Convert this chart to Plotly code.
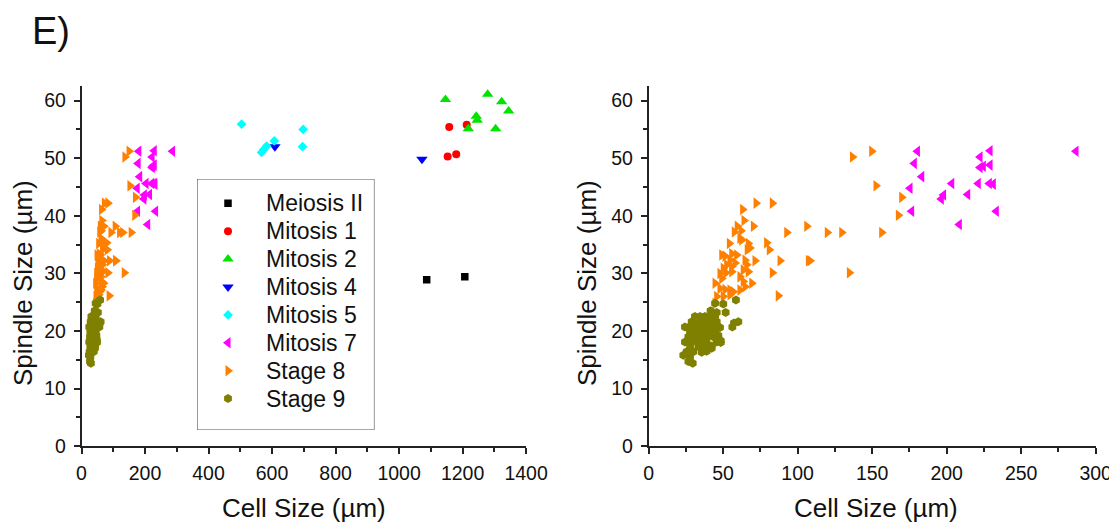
import plotly.graph_objects as go

# ---------------- data ----------------
meiosis2_x = [1087, 1207]
meiosis2_y = [28.9, 29.4]

mitosis1_x = [1158, 1213, 1153, 1180]
mitosis1_y = [55.4, 55.8, 50.3, 50.7]

mitosis2_x = [1146, 1279, 1323, 1345, 1243, 1246, 1218, 1304]
mitosis2_y = [60.2, 61.1, 59.8, 58.2, 57.3, 56.6, 55.1, 55.1]

mitosis4_x = [609, 1072]
mitosis4_y = [52.0, 49.8]

mitosis5_x = [504, 698, 607, 583, 574, 567, 696]
mitosis5_y = [55.9, 55.0, 53.0, 52.1, 51.5, 51.0, 52.0]

mitosis7_x = [180.4, 178.3, 183.3, 175.4, 176.5, 203.4, 197.9, 196.4, 214.1, 222.4,
              229.1, 222.4, 224.6, 229.1, 221.2, 228.6, 231.3, 233.3, 208.5, 286.8]
mitosis7_y = [51.2, 49.1, 46.8, 44.8, 40.8, 45.6, 43.6, 42.9, 43.7, 50.2,
              51.3, 48.4, 48.6, 48.8, 45.6, 45.6, 45.5, 40.8, 38.5, 51.2]

stage8_x = [136.8, 149.7, 152.6, 169.8, 167.6, 72.1, 83.0, 63.1, 64.0, 70.3,
            106.1, 92.7, 119.9, 129.6, 156.4, 59.5, 57.5, 62.0, 61.3, 62.5,
            66.9, 68.0, 66.2, 54.2, 79.2, 81.0, 49.1, 51.3, 55.8, 59.1,
            54.6, 58.0, 52.4, 55.8, 64.7, 65.8, 71.4, 88.2, 107.2, 108.3,
            50.1, 47.9, 51.9, 55.8, 63.5, 66.9, 83.0, 134.7, 49.1, 61.3,
            63.5, 69.2, 64.7, 44.6, 47.9, 51.3, 54.6, 61.3, 87.0, 45.7,
            44.6, 54.6, 56.8, 50.1]
stage8_y = [50.2, 51.2, 45.2, 43.2, 40.1, 42.2, 42.2, 41.1, 39.2, 38.2,
            38.2, 37.1, 37.1, 37.1, 37.1, 38.2, 37.2, 37.4, 36.1, 35.8,
            35.2, 34.4, 34.1, 35.2, 35.3, 34.1, 33.2, 33.0, 33.4, 33.2,
            32.3, 31.8, 31.5, 31.2, 32.3, 31.5, 32.2, 32.2, 32.2, 32.2,
            30.9, 30.0, 30.1, 30.3, 30.6, 30.3, 30.1, 30.1, 29.1, 29.4,
            28.6, 28.3, 27.7, 28.3, 27.4, 27.2, 27.1, 27.1, 26.1, 26.0,
            24.8, 26.3, 26.8, 26.0]

stage9_x = [58.6, 50.1, 51.7, 45.7, 41.6, 44.6,
            60.2, 57.3, 56.2, 46.8, 48.4, 42.3, 36.7,
            31.1, 34.5, 37.8, 41.2, 44.6,
            28.9, 32.3, 35.6, 38.9, 42.3, 45.7,
            24.4, 27.8, 31.1, 34.5, 37.8, 41.2, 44.6, 47.9,
            27.8, 31.1, 34.5, 37.8, 41.2, 44.6,
            26.7, 30.0, 33.4, 36.7, 40.1, 43.4, 46.8,
            24.4, 28.9, 32.3, 35.6, 38.9, 45.7, 48.4,
            27.8, 33.4, 37.8, 42.3,
            25.5, 30.0, 35.6, 38.9,
            23.3, 27.8,
            26.7, 29.6]
stage9_y = [25.4, 24.7, 23.2, 23.2, 23.5, 24.8,
            21.6, 21.4, 20.7, 18.6, 18.3, 17.0, 16.7,
            22.5, 22.5, 22.5, 22.5, 22.3,
            21.6, 21.6, 21.7, 21.6, 21.5, 21.6,
            20.7, 20.8, 20.7, 20.6, 20.7, 20.7, 20.8, 20.6,
            19.9, 19.8, 19.9, 20.0, 19.9, 19.8,
            19.0, 19.1, 19.0, 19.0, 19.1, 19.0, 19.2,
            18.1, 18.1, 18.2, 18.1, 18.0, 18.1, 18.0,
            17.3, 17.3, 17.2, 17.4,
            16.4, 16.4, 16.3, 16.5,
            15.8, 15.5,
            14.7, 14.4]

series_names = ["Meiosis II", "Mitosis 1", "Mitosis 2", "Mitosis 4",
                "Mitosis 5", "Mitosis 7", "Stage 8", "Stage 9"]
series_x = [meiosis2_x, mitosis1_x, mitosis2_x, mitosis4_x,
            mitosis5_x, mitosis7_x, stage8_x, stage9_x]
series_y = [meiosis2_y, mitosis1_y, mitosis2_y, mitosis4_y,
            mitosis5_y, mitosis7_y, stage8_y, stage9_y]
series_symbols = ["square", "circle", "triangle-up", "triangle-down",
                  "diamond", "triangle-left", "triangle-right", "hexagon"]
series_colors = ["#000000", "#FF0000", "#00E400", "#0000FF",
                 "#00FFFF", "#FF00FF", "#FF8000", "#808000"]
series_sizes = [7.5, 8, 10, 10, 7.5, 10, 10, 9]
right_panel_series = ["Mitosis 7", "Stage 8", "Stage 9"]

left_x_ticks = [0, 200, 400, 600, 800, 1000, 1200, 1400]
right_x_ticks = [0, 50, 100, 150, 200, 250, 300]
y_ticks = [0, 10, 20, 30, 40, 50, 60]

FONT = "Arial, Liberation Sans, sans-serif"
# the page body adds an 8px margin: lay out in window pixels, shifted by it
OFF = 8
W, H = 1117 - OFF, 525 - OFF


def fx(px):
    return (px - OFF) / W


def fy(py):
    return (H - (py - OFF)) / H


fig = go.Figure()

for name, xs, ys, sym, col, sz in zip(series_names, series_x, series_y,
                                      series_symbols, series_colors, series_sizes):
    fig.add_trace(go.Scatter(
        x=xs, y=ys, mode="markers", name=name,
        marker=dict(symbol=sym, color=col, size=sz, line=dict(width=0)),
        xaxis="x", yaxis="y", showlegend=False))

for name, xs, ys, sym, col, sz in zip(series_names, series_x, series_y,
                                      series_symbols, series_colors, series_sizes):
    if name in right_panel_series:
        fig.add_trace(go.Scatter(
            x=xs, y=ys, mode="markers", name=name,
            marker=dict(symbol=sym, color=col, size=sz, line=dict(width=0)),
            xaxis="x2", yaxis="y2", showlegend=False))

# ---- hand-built legend box (Origin style: tight row spacing) ----
LEG_L, LEG_R, LEG_T, LEG_B = 197, 374.5, 179, 430
leg_w, leg_h = LEG_R - LEG_L, LEG_B - LEG_T
row0, row_step = 24.3, 27.9
sym_x, txt_x = 31, 67
for i, (name, sym, col, sz) in enumerate(zip(series_names, series_symbols,
                                             series_colors, series_sizes)):
    fig.add_trace(go.Scatter(
        x=[sym_x], y=[row0 + i * row_step], mode="markers", name=name,
        marker=dict(symbol=sym, color=col, size=sz, line=dict(width=0)),
        xaxis="x3", yaxis="y3", showlegend=False, hoverinfo="skip"))

axis_common = dict(
    showline=True, linecolor="#222222", linewidth=1.5,
    ticks="outside", ticklen=6, tickwidth=1.5, tickcolor="#222222",
    showgrid=False, zeroline=False, mirror=False,
    tickfont=dict(family=FONT, size=19.5, color="#111111"),
    automargin=False,
)

y_dom = [fy(446.2), fy(86.2)]

fig.update_layout(
    width=W, height=H,
    margin=dict(l=0, r=0, t=0, b=0),
    paper_bgcolor="white", plot_bgcolor="rgba(0,0,0,0)",
    font=dict(family=FONT, color="#111111"),
    xaxis=dict(domain=[fx(81.5), fx(526.1)], range=[0, 1400],
               tickvals=left_x_ticks, anchor="y", ticklabelstandoff=3,
               minor=dict(dtick=100, ticks="outside", ticklen=4, tickwidth=1.5,
                          tickcolor="#222222", showgrid=False),
               **axis_common),
    yaxis=dict(domain=y_dom, range=[0, 62.5], tickvals=y_ticks, anchor="x",
               ticklabelstandoff=4,
               minor=dict(dtick=5, ticks="outside", ticklen=4, tickwidth=1.5,
                          tickcolor="#222222", showgrid=False),
               **axis_common),
    xaxis2=dict(domain=[fx(648.6), fx(1095.7)], range=[0, 300],
                tickvals=right_x_ticks, anchor="y2", ticklabelstandoff=3,
                minor=dict(dtick=25, ticks="outside", ticklen=4, tickwidth=1.5,
                           tickcolor="#222222", showgrid=False),
                **axis_common),
    yaxis2=dict(domain=y_dom, range=[0, 62.5], tickvals=y_ticks, anchor="x2",
                ticklabelstandoff=4,
                minor=dict(dtick=5, ticks="outside", ticklen=4, tickwidth=1.5,
                           tickcolor="#222222", showgrid=False),
                **axis_common),
    xaxis3=dict(domain=[fx(LEG_L), fx(LEG_R)], range=[0, leg_w], visible=False,
                fixedrange=True, anchor="y3"),
    yaxis3=dict(domain=[fy(LEG_B), fy(LEG_T)], range=[leg_h, 0], visible=False,
                fixedrange=True, anchor="x3"),
    showlegend=False,
)

shapes = [dict(type="rect", xref="x3", yref="y3", x0=0, x1=leg_w, y0=0, y1=leg_h,
               line=dict(color="#555555", width=1.2), fillcolor="rgba(0,0,0,0)",
               layer="above")]

annotations = []
for i, name in enumerate(series_names):
    annotations.append(dict(
        text=name, x=txt_x, y=row0 + i * row_step, xref="x3", yref="y3",
        xanchor="left", yanchor="middle", showarrow=False,
        font=dict(family=FONT, size=23, color="#111111")))

annotations += [
    dict(text="E)", x=fx(30), y=fy(30.5), xref="paper", yref="paper",
         xanchor="left", yanchor="middle", showarrow=False,
         font=dict(family=FONT, size=38, color="#111111")),
    dict(text="Cell Size (µm)", x=fx(303.8), y=fy(508), xref="paper", yref="paper",
         xanchor="center", yanchor="middle", showarrow=False,
         font=dict(family=FONT, size=26, color="#111111")),
    dict(text="Cell Size (µm)", x=fx(876), y=fy(508), xref="paper", yref="paper",
         xanchor="center", yanchor="middle", showarrow=False,
         font=dict(family=FONT, size=26, color="#111111")),
    dict(text="Spindle Size (µm)", x=fx(23), y=fy(283), xref="paper", yref="paper",
         xanchor="center", yanchor="middle", showarrow=False, textangle=-90,
         font=dict(family=FONT, size=26, color="#111111")),
    dict(text="Spindle Size (µm)", x=fx(587), y=fy(283), xref="paper", yref="paper",
         xanchor="center", yanchor="middle", showarrow=False, textangle=-90,
         font=dict(family=FONT, size=26, color="#111111")),
]
fig.update_layout(annotations=annotations, shapes=shapes)

fig.write_html("out.html")
